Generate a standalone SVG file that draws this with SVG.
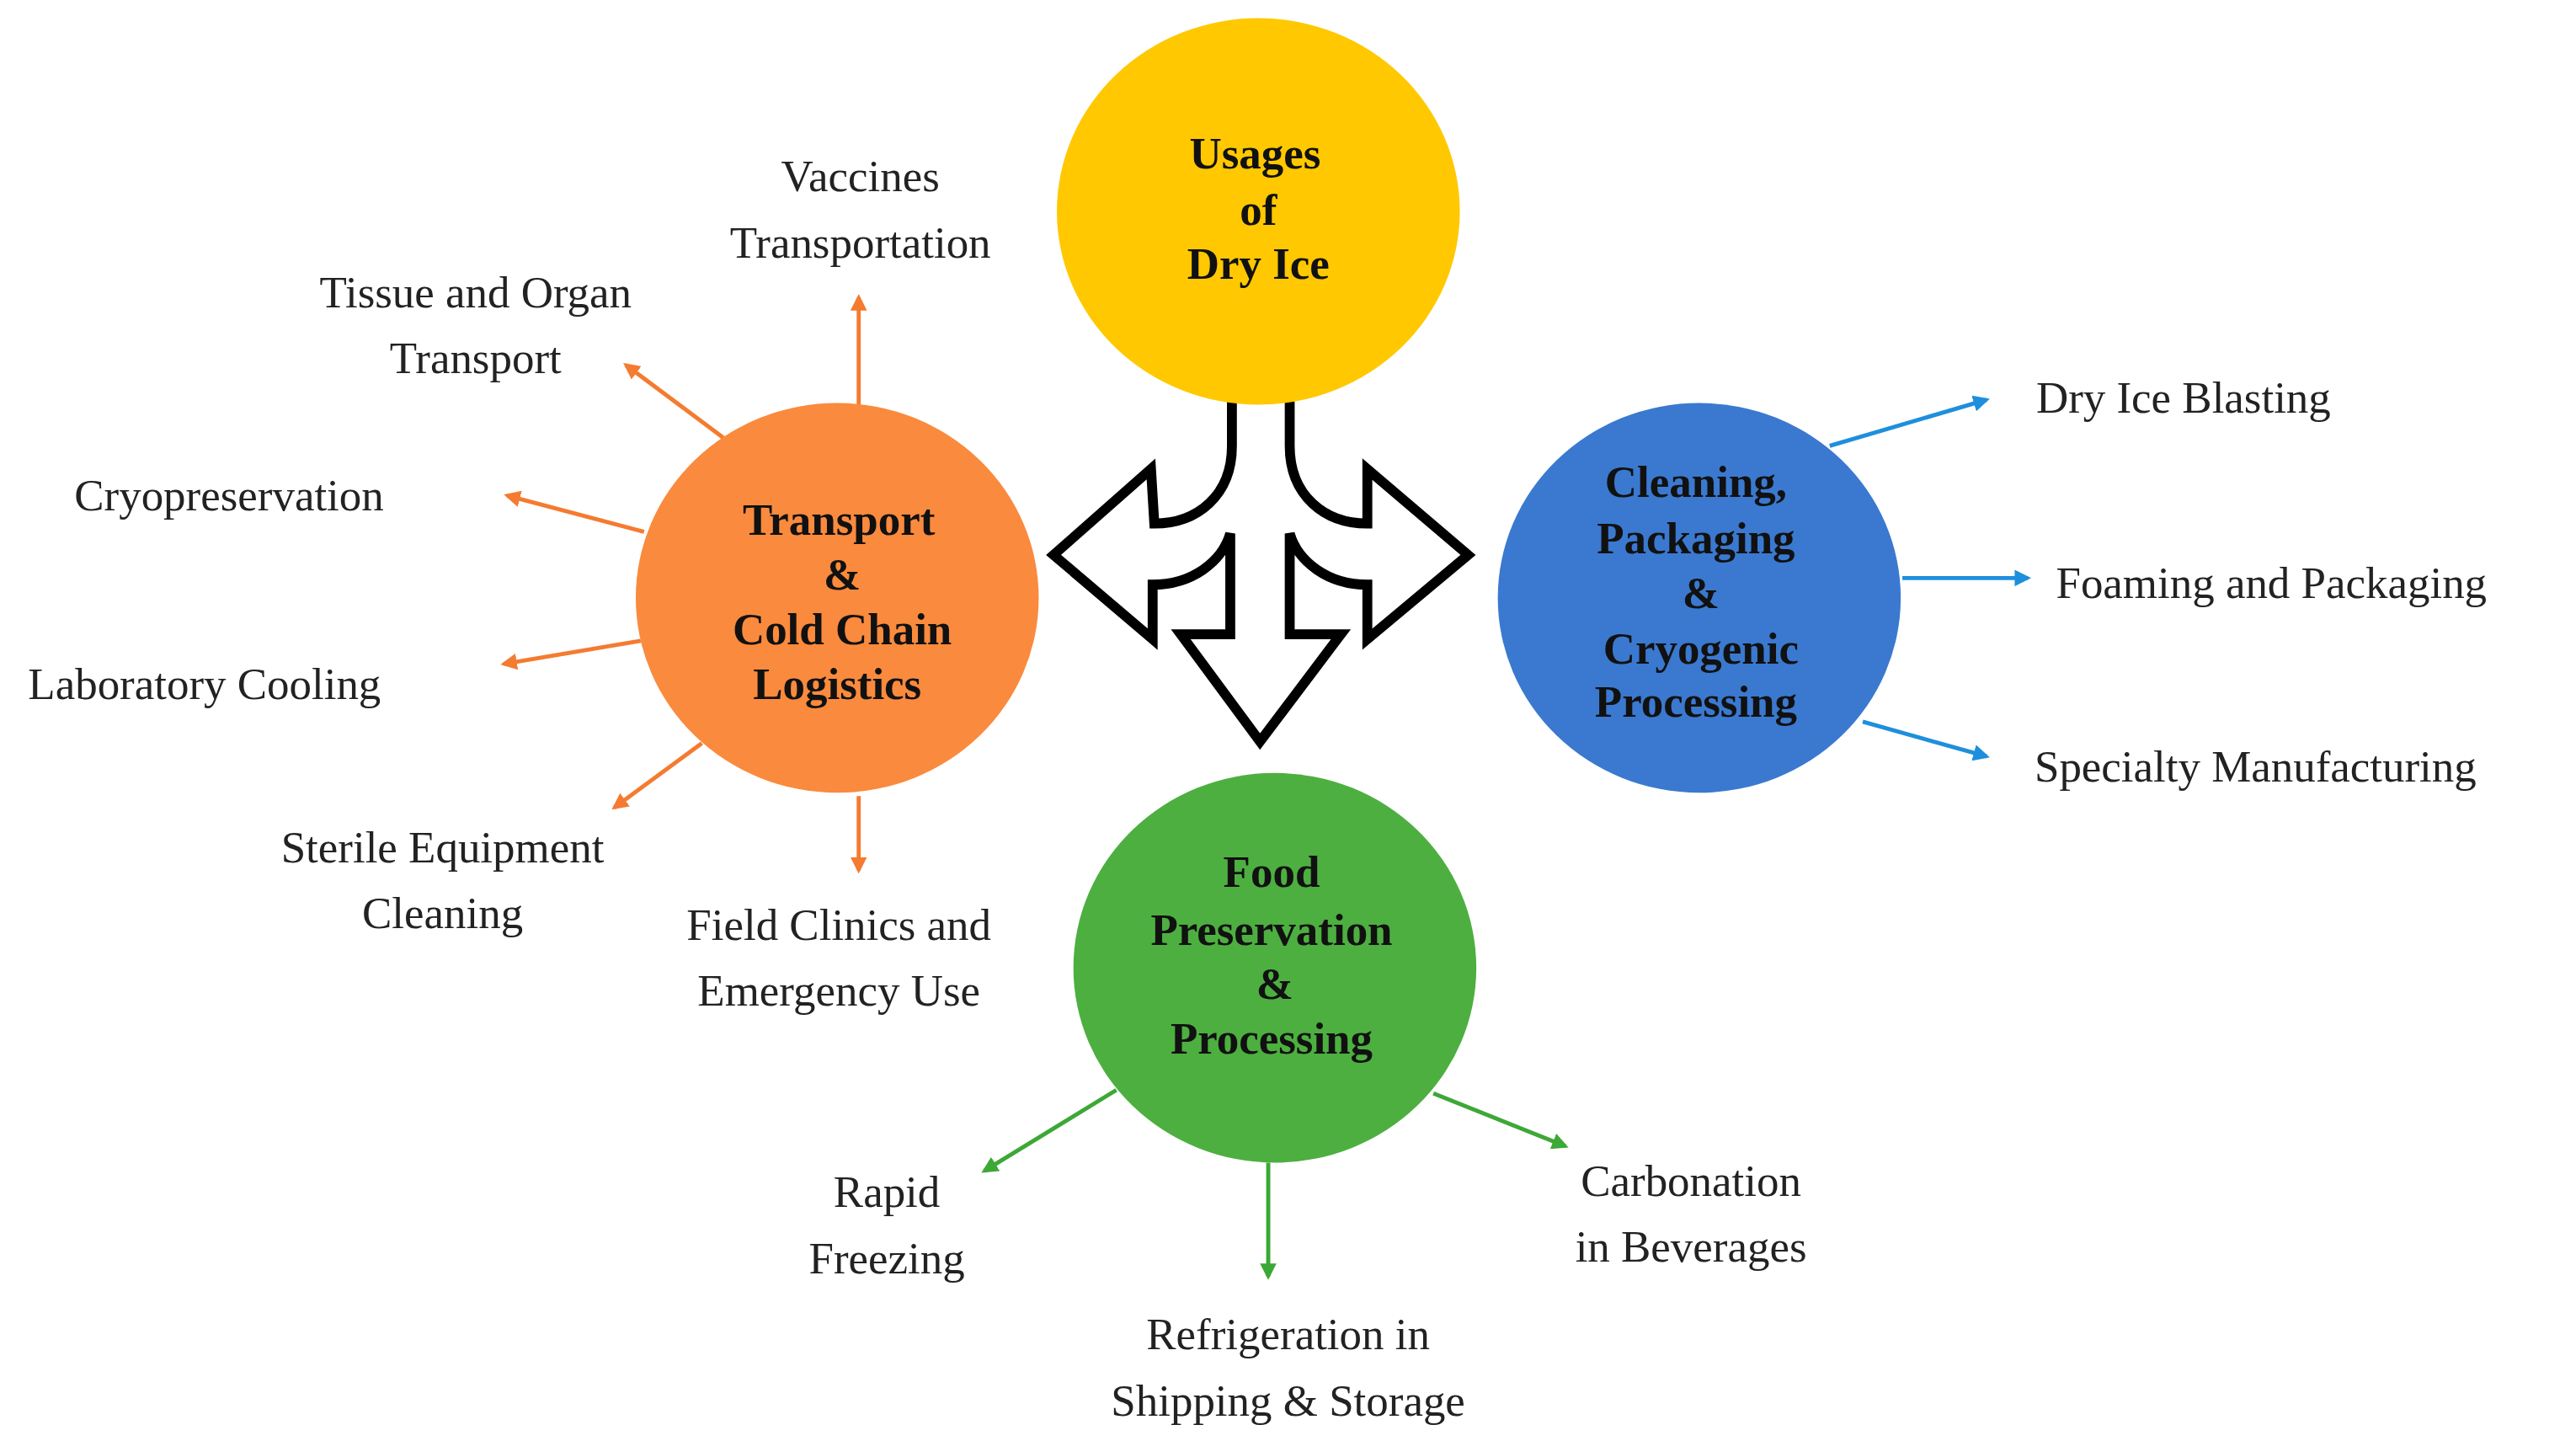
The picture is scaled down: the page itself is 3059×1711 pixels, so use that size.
<svg xmlns="http://www.w3.org/2000/svg" width="3059" height="1711" viewBox="0 0 3059 1711">
<style>
.lb{font-family:"Liberation Serif",serif;font-size:27px;fill:#222}
.ct{font-family:"Liberation Serif",serif;font-size:27px;font-weight:bold;fill:#111;text-anchor:middle}
.m{text-anchor:middle}
.co{stroke:#F47B30;stroke-width:2.5;fill:none}
.cb{stroke:#1E8FDC;stroke-width:2.5;fill:none}
.cg{stroke:#3DA836;stroke-width:2.5;fill:none}
</style>
<defs>
<marker id="ao" viewBox="0 0 10 10" refX="8" refY="5" markerWidth="4" markerHeight="4" orient="auto"><path d="M0,0L10,5L0,10z" fill="#F47B30"/></marker>
<marker id="ab" viewBox="0 0 10 10" refX="8" refY="5" markerWidth="4" markerHeight="4" orient="auto"><path d="M0,0L10,5L0,10z" fill="#1E8FDC"/></marker>
<marker id="ag" viewBox="0 0 10 10" refX="8" refY="5" markerWidth="4" markerHeight="4" orient="auto"><path d="M0,0L10,5L0,10z" fill="#3DA836"/></marker>
</defs>
<rect width="3059" height="1711" fill="#fff"/>
<g transform="scale(1.961)">
<g id="connectors">
<path class="co" marker-end="url(#ao)" d="M520,245L520,180"/>
<path class="co" marker-end="url(#ao)" d="M438,265L379,221"/>
<path class="co" marker-end="url(#ao)" d="M390,322L307,300"/>
<path class="co" marker-end="url(#ao)" d="M388,388L305,402"/>
<path class="co" marker-end="url(#ao)" d="M425,450L372,489"/>
<path class="co" marker-end="url(#ao)" d="M520,482L520,527"/>
<path class="cb" marker-end="url(#ab)" d="M1108,270L1203,242"/>
<path class="cb" marker-end="url(#ab)" d="M1152,350L1228,350"/>
<path class="cb" marker-end="url(#ab)" d="M1128,437L1203,458"/>
<path class="cg" marker-end="url(#ag)" d="M676,660L596,709"/>
<path class="cg" marker-end="url(#ag)" d="M768,704L768,773"/>
<path class="cg" marker-end="url(#ag)" d="M868,662L948,694"/>
<path id="bigarrow" fill="#fff" stroke="#000" stroke-width="6" stroke-linejoin="miter" d="M746,243L746,270C746,300 725,317 699,317L697,284L638,336L698,387L698,354C722,354 740,340 745,323L745,384L715,384L763,449L812,384L781,384L781,323C786,340 804,354 828,354L828,387L889,336L828,284L828,317C802,317 781,300 781,270L781,243"/>
</g>
<g id="usages"><ellipse cx="762" cy="128" rx="122" ry="117" fill="#FFC800"/>
<text class="ct" x="760" y="102">Usages</text><text class="ct" x="762" y="136">of</text><text class="ct" x="762" y="169">Dry Ice</text></g>
<g id="transport"><ellipse cx="507" cy="362" rx="122" ry="118" fill="#FA8A3D"/>
<text class="ct" x="508" y="324">Transport</text><text class="ct" x="510" y="357">&amp;</text><text class="ct" x="510" y="390">Cold Chain</text><text class="ct" x="507" y="423">Logistics</text></g>
<g id="cleaning"><ellipse cx="1029" cy="362" rx="122" ry="118" fill="#3A79CF"/>
<text class="ct" x="1027" y="301">Cleaning,</text><text class="ct" x="1027" y="335">Packaging</text><text class="ct" x="1030" y="368">&amp;</text><text class="ct" x="1030" y="402">Cryogenic</text><text class="ct" x="1027" y="434">Processing</text></g>
<g id="food"><ellipse cx="772" cy="586" rx="122" ry="118" fill="#4DAF40"/>
<text class="ct" x="770" y="537">Food</text><text class="ct" x="770" y="572">Preservation</text><text class="ct" x="772" y="605">&amp;</text><text class="ct" x="770" y="638">Processing</text></g>
<g id="labels">
<text class="lb m" x="521" y="116">Vaccines</text><text class="lb m" x="521" y="156">Transportation</text>
<text class="lb m" x="288" y="186">Tissue and Organ</text><text class="lb m" x="288" y="226">Transport</text>
<text class="lb" x="45" y="309">Cryopreservation</text>
<text class="lb" x="17" y="423">Laboratory Cooling</text>
<text class="lb m" x="268" y="522">Sterile Equipment</text><text class="lb m" x="268" y="562">Cleaning</text>
<text class="lb m" x="508" y="569">Field Clinics and</text><text class="lb m" x="508" y="609">Emergency Use</text>
<text class="lb" x="1233" y="250">Dry Ice Blasting</text>
<text class="lb" x="1245" y="362">Foaming and Packaging</text>
<text class="lb" x="1232" y="473">Specialty Manufacturing</text>
<text class="lb m" x="537" y="731">Rapid</text><text class="lb m" x="537" y="771">Freezing</text>
<text class="lb m" x="780" y="817">Refrigeration in</text><text class="lb m" x="780" y="857">Shipping &amp; Storage</text>
<text class="lb m" x="1024" y="724">Carbonation</text><text class="lb m" x="1024" y="764">in Beverages</text>
</g>
</g>
</svg>
